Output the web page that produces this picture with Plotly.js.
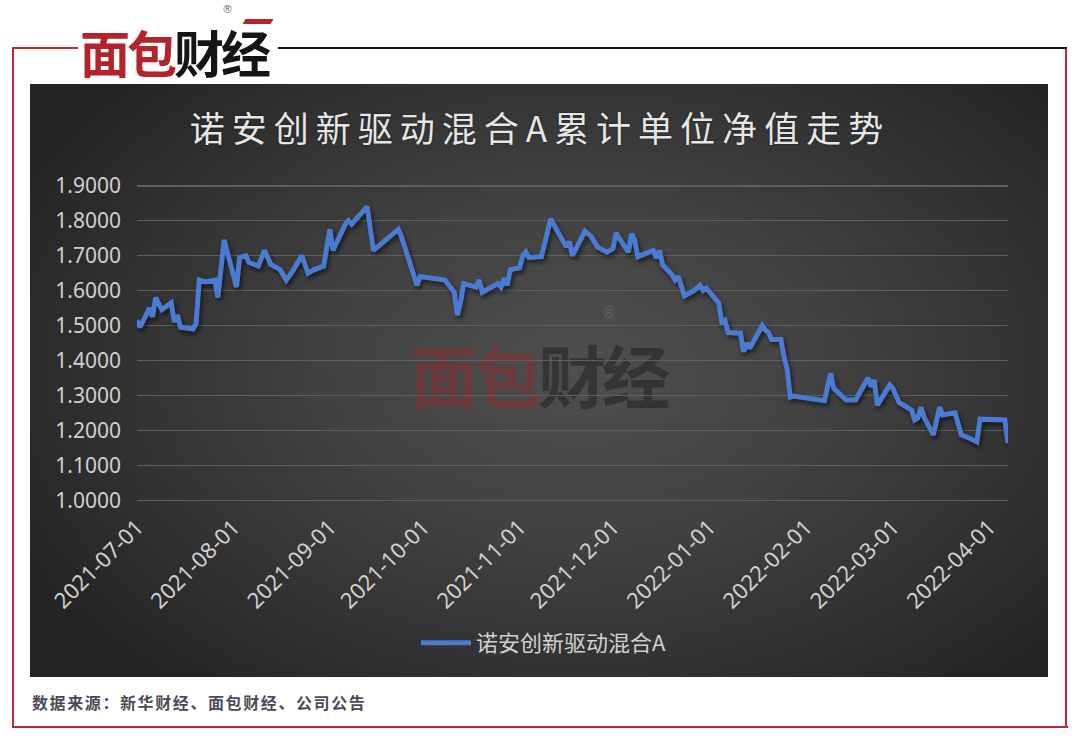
<!DOCTYPE html>
<html>
<head>
<meta charset="utf-8">
<script src="https://cdn.plot.ly/plotly-3.0.1.min.js"></script>
<style>
  html, body { margin: 0; padding: 0; background: #ffffff; }
  #page { position: relative; width: 1080px; height: 741px; overflow: hidden; background: #fff; font-family: "Noto Sans CJK SC", "Noto Sans", sans-serif; }
  .abs { position: absolute; }
  #darkbg { left: 30px; top: 84px; width: 1018px; height: 593px;
    background: radial-gradient(ellipse 62% 70% at 54% 48%, #4f4f4f 0%, #424242 40%, #2f2f2f 78%, #242424 100%); }
  #chart { left: 0; top: 0; width: 1080px; height: 741px; }
  #chart .gtitle { letter-spacing: 7px; text-shadow: 0 0 2px rgba(0,0,0,0.6); }
  #chart .scatterlayer .js-line { filter: drop-shadow(2px 3px 2px rgba(0,0,0,0.55)); }
  #logo { left: 78px; top: 14px; width: 200px; height: 66px; background: #fff; }
  #logo .t { position: absolute; left: 2px; top: 12px; font-size: 50px; font-weight: 700; letter-spacing: -3px; line-height: 50px; white-space: nowrap; }
  #wm { left: 410px; top: 340px; font-size: 68px; font-weight: 700; letter-spacing: -4px; white-space: nowrap; line-height: 68px; }
  #footer { left: 32px; top: 690px; font-size: 16px; font-weight: 700; color: #4b4b58; letter-spacing: 1.6px; white-space: nowrap; }
  .reg { font-family: "DejaVu Sans", sans-serif; }
</style>
</head>
<body>
<div id="page">
  <!-- frame -->
  <div class="abs" style="left:12px;top:47px;width:2px;height:681px;background:#c3262d;"></div>
  <div class="abs" style="left:12px;top:726px;width:1056px;height:2px;background:#c3262d;"></div>
  <div class="abs" style="left:1065px;top:47px;width:2px;height:681px;background:#c3262d;"></div>
  <div class="abs" style="left:12px;top:47px;width:66px;height:2px;background:#c3262d;"></div>
  <div class="abs" style="left:278px;top:47px;width:789px;height:2px;background:#111;"></div>
  <div id="darkbg" class="abs"></div>
  <div id="wm" class="abs"><span style="color:rgba(150,40,40,0.45)">面包</span><span style="color:rgba(25,25,25,0.45)">财经</span></div>
  <div class="abs reg" style="left:601px;top:306px;font-size:15px;line-height:15px;color:rgba(120,120,120,0.6)">®</div>
  <div id="chart" class="abs"></div>
  <div id="logo" class="abs">
    <div class="t"><span style="color:#b3242a">面包</span><span style="color:#151515">财经</span></div>
    <div class="abs" style="left:166px;top:5px;width:28px;height:5px;background:#b3242a;transform:skewX(-30deg);"></div>
  </div>
  <div class="abs reg" style="left:222px;top:4px;font-size:11px;line-height:11px;color:#777;">®</div>
  <div id="footer" class="abs">数据来源：新华财经、面包财经、公司公告</div>
</div>
<script>
const seriesName = "诺安创新驱动混合A";
const chartTitle = "诺安创新驱动混合A累计单位净值走势";
const dates = [
  "2021-07-01","2021-07-02","2021-07-05","2021-07-06","2021-07-07","2021-07-09","2021-07-12","2021-07-13","2021-07-14","2021-07-15",
  "2021-07-19","2021-07-20","2021-07-21","2021-07-23","2021-07-26","2021-07-27","2021-07-29","2021-07-30","2021-08-02","2021-08-03",
  "2021-08-05","2021-08-06","2021-08-09","2021-08-11","2021-08-13","2021-08-16","2021-08-18","2021-08-20","2021-08-23","2021-08-25",
  "2021-08-27","2021-08-30","2021-09-01","2021-09-02","2021-09-06","2021-09-07","2021-09-08","2021-09-13","2021-09-14","2021-09-15",
  "2021-09-23","2021-09-24","2021-09-29","2021-09-30","2021-10-08","2021-10-11","2021-10-12","2021-10-13","2021-10-14","2021-10-18",
  "2021-10-19","2021-10-20","2021-10-25","2021-10-26","2021-10-27","2021-10-28","2021-10-29","2021-11-01","2021-11-02","2021-11-03",
  "2021-11-04","2021-11-08","2021-11-11","2021-11-15","2021-11-16","2021-11-17","2021-11-18","2021-11-22","2021-11-24","2021-11-26",
  "2021-11-29","2021-12-01","2021-12-02","2021-12-03","2021-12-06","2021-12-07","2021-12-08","2021-12-09","2021-12-13","2021-12-14",
  "2021-12-15","2021-12-16","2021-12-17","2021-12-20","2021-12-21","2021-12-22","2021-12-24","2021-12-27","2021-12-29","2021-12-30",
  "2021-12-31","2022-01-04","2022-01-05","2022-01-06","2022-01-07","2022-01-10","2022-01-11","2022-01-12","2022-01-13","2022-01-14",
  "2022-01-18","2022-01-19","2022-01-20","2022-01-21","2022-01-24","2022-01-25","2022-01-26","2022-01-27","2022-01-28","2022-02-07",
  "2022-02-09","2022-02-10","2022-02-14","2022-02-17","2022-02-21","2022-02-22","2022-02-23","2022-02-24","2022-02-25","2022-02-28",
  "2022-03-01","2022-03-03","2022-03-07","2022-03-08","2022-03-09","2022-03-10","2022-03-11","2022-03-14","2022-03-16","2022-03-17",
  "2022-03-21","2022-03-23","2022-03-25","2022-03-28","2022-03-29","2022-04-06","2022-04-07"
];
const navValues = [
  1.515,1.495,1.550,1.525,1.580,1.545,1.565,1.510,1.530,1.495,
  1.490,1.505,1.630,1.625,1.630,1.580,1.745,1.710,1.610,1.695,
  1.700,1.680,1.670,1.715,1.675,1.660,1.630,1.655,1.700,1.650,
  1.660,1.670,1.775,1.715,1.790,1.800,1.790,1.840,1.780,1.715,
  1.775,1.755,1.615,1.640,1.630,1.595,1.530,1.565,1.620,1.610,
  1.630,1.595,1.620,1.610,1.635,1.615,1.660,1.665,1.700,1.710,
  1.695,1.697,1.805,1.745,1.725,1.740,1.700,1.770,1.755,1.725,
  1.710,1.720,1.765,1.750,1.710,1.762,1.745,1.697,1.710,1.715,
  1.693,1.715,1.673,1.645,1.630,1.640,1.585,1.600,1.615,1.600,
  1.607,1.565,1.510,1.515,1.480,1.478,1.478,1.425,1.450,1.435,
  1.500,1.487,1.480,1.460,1.460,1.410,1.375,1.295,1.298,1.285,
  1.363,1.320,1.287,1.287,1.350,1.325,1.344,1.272,1.287,1.330,
  1.320,1.280,1.258,1.230,1.235,1.266,1.238,1.187,1.266,1.244,
  1.250,1.187,1.180,1.167,1.232,1.230,1.163
];
const xTickVals = ["2021-07-01","2021-08-01","2021-09-01","2021-10-01","2021-11-01","2021-12-01","2022-01-01","2022-02-01","2022-03-01","2022-04-01"];
const yTickVals = [1.0,1.1,1.2,1.3,1.4,1.5,1.6,1.7,1.8,1.9];

const trace = {
  type: "scatter", mode: "lines", name: seriesName,
  x: dates, y: navValues,
  line: { color: "#4a7bd2", width: 5, shape: "linear" },
  hoverinfo: "skip"
};
const layout = {
  width: 1080, height: 741,
  margin: { l: 137, r: 72, t: 184.25, b: 239.26, pad: 0 },
  paper_bgcolor: "rgba(0,0,0,0)", plot_bgcolor: "rgba(0,0,0,0)",
  font: { family: '"Noto Sans", "Noto Sans CJK SC", sans-serif', color: "#d4d4d4" },
  title: {
    text: chartTitle, xref: "container", yref: "container",
    x: 0.5, xanchor: "center", y: 1 - 130/741, yanchor: "middle",
    font: { family: '"Noto Sans CJK SC", sans-serif', size: 35, color: "#e6e6e6" }
  },
  xaxis: {
    type: "date", range: ["2021-07-01", "2022-04-07"],
    tickvals: xTickVals, tickformat: "%Y-%m-%d", tickangle: -45,
    showgrid: false, zeroline: false, showline: false, ticks: "",
    ticklabelstandoff: 7,
    tickfont: { size: 22, color: "#d0d0d0", family: '"Noto Sans", sans-serif' }
  },
  yaxis: {
    range: [0.995, 1.905], tickvals: yTickVals, tickformat: ".4f",
    showgrid: true, gridcolor: "#5e5e5e", gridwidth: 1.5,
    zeroline: false, showline: false, ticks: "",
    ticklabelstandoff: 15,
    tickfont: { size: 21, color: "#d0d0d0", family: '"Noto Sans", sans-serif' }
  },
  showlegend: true,
  legend: {
    orientation: "h", xref: "container", yref: "container",
    x: 544/1080, xanchor: "center", y: 1 - 643/741, yanchor: "middle",
    bgcolor: "rgba(0,0,0,0)", itemwidth: 50,
    font: { family: '"Noto Sans CJK SC", sans-serif', size: 22, color: "#d0d0d0" }
  }
};
Plotly.newPlot("chart", [trace], layout, { staticPlot: true, displayModeBar: false });
</script>
</body>
</html>
